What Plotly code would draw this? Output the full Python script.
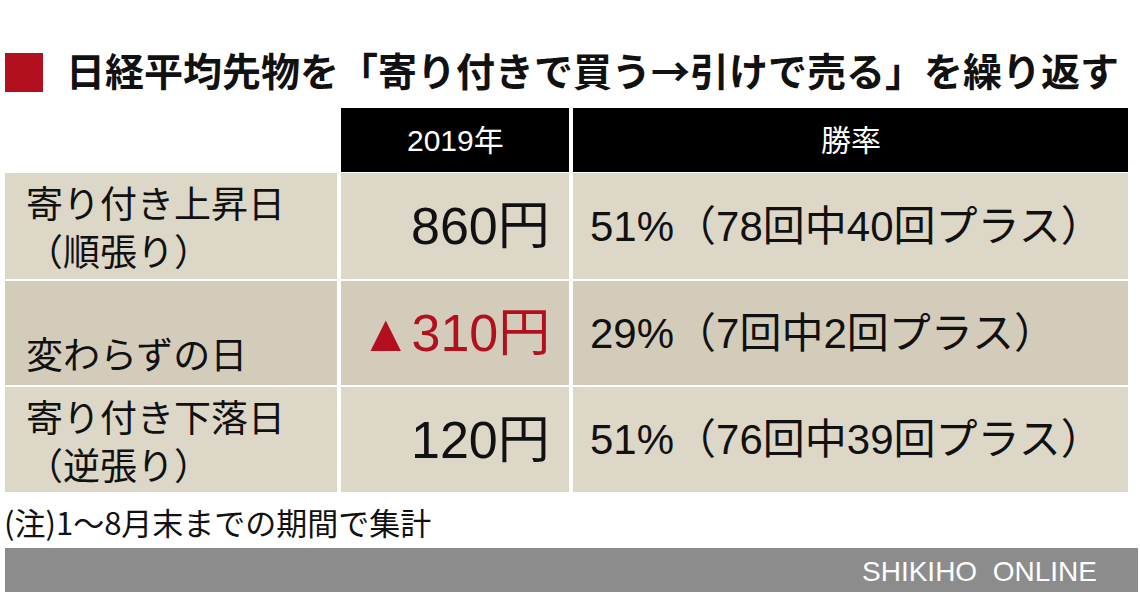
import plotly.graph_objects as go

# ---- data ----
title = "日経平均先物を「寄り付きで買う→引けで売る」を繰り返す"
headers = ["2019年", "勝率"]
row_labels = [["寄り付き上昇日", "（順張り）"], ["変わらずの日"], ["寄り付き下落日", "（逆張り）"]]
values_yen = [860, -310, 120]
win_pct = [51, 29, 51]
total_count = [78, 7, 76]
win_count = [40, 2, 39]
note = "(注)1〜8月末までの期間で集計"
source = "SHIKIHO  ONLINE"

# ---- style ----
W, H = 1140, 614
JP = "Noto Sans CJK JP"
MIX = "Liberation Sans, Noto Sans CJK JP"
RED = "#b2101f"
ROW_COLORS = ["#ddd7c8", "#d3ccbb", "#ddd7c8"]

col_x = [(5, 337), (341, 569), (573, 1128)]
header_y = (108, 172)
row_y = [(173, 279), (281, 385), (387, 492)]

shapes = []
annotations = []

# title marker
shapes.append(dict(type="rect", xref="x", yref="y", x0=5, x1=43, y0=53, y1=92,
                   fillcolor=RED, line=dict(width=0)))
annotations.append(dict(x=64, y=69, xref="x", yref="y", text=title, showarrow=False,
                        xanchor="left", yanchor="middle",
                        font=dict(family=JP, size=39, color="#111111", weight=700)))

# header
for (x0, x1), h in zip(col_x[1:], headers):
    shapes.append(dict(type="rect", xref="x", yref="y", x0=x0, x1=x1,
                       y0=header_y[0], y1=header_y[1], fillcolor="#000000", line=dict(width=0)))
    annotations.append(dict(x=(x0 + x1) / 2, y=(header_y[0] + header_y[1]) / 2, xref="x", yref="y",
                            text=h, showarrow=False, xanchor="center", yanchor="middle",
                            font=dict(family=MIX, size=30, color="#ffffff")))

# body
for i, (y0, y1) in enumerate(row_y):
    for (x0, x1) in col_x:
        shapes.append(dict(type="rect", xref="x", yref="y", x0=x0, x1=x1, y0=y0, y1=y1,
                           fillcolor=ROW_COLORS[i], line=dict(width=0)))
    yc = (y0 + y1) / 2
    labels = row_labels[i]
    if len(labels) == 2:
        annotations.append(dict(x=24, y=yc, xref="x", yref="y", text="<br>".join(labels),
                                showarrow=False, xanchor="left", yanchor="middle", align="left",
                                font=dict(family=JP, size=37, color="#111111")))
    else:
        annotations.append(dict(x=24, y=yc + 20, xref="x", yref="y", text=labels[0], showarrow=False,
                                xanchor="left", yanchor="middle",
                                font=dict(family=JP, size=37, color="#111111")))
    v = values_yen[i]
    vtxt = f"▲{abs(v)}円" if v < 0 else f"{v}円"
    annotations.append(dict(x=552, y=yc, xref="x", yref="y", text=vtxt, showarrow=False,
                            xanchor="right", yanchor="middle",
                            font=dict(family=MIX, size=52, color=RED if v < 0 else "#111111")))
    rtxt = f"{win_pct[i]}%（{total_count[i]}回中{win_count[i]}回プラス）"
    annotations.append(dict(x=588, y=yc, xref="x", yref="y", text=rtxt, showarrow=False,
                            xanchor="left", yanchor="middle",
                            font=dict(family=MIX, size=42, color="#111111")))

# note
annotations.append(dict(x=2, y=521, xref="x", yref="y", text=note, showarrow=False,
                        xanchor="left", yanchor="middle",
                        font=dict(family=JP, size=31, color="#111111")))
# footer
shapes.append(dict(type="rect", xref="x", yref="y", x0=5, x1=1138, y0=548, y1=592,
                   fillcolor="#8c8c8c", line=dict(width=0)))
annotations.append(dict(x=1099, y=571, xref="x", yref="y", text=source, showarrow=False,
                        xanchor="right", yanchor="middle",
                        font=dict(family="Liberation Sans Narrow, Liberation Sans", size=28, color="#ffffff")))

fig = go.Figure()
fig.update_layout(
    width=W, height=H, margin=dict(l=0, r=0, t=0, b=0),
    paper_bgcolor="#ffffff", plot_bgcolor="#ffffff",
    xaxis=dict(range=[0, W], visible=False, fixedrange=True),
    yaxis=dict(range=[H, 0], visible=False, fixedrange=True),
    shapes=shapes, annotations=annotations, showlegend=False,
)
fig.write_html("out.html", config={"displayModeBar": False},
               post_script="document.body.style.margin='0px';")
